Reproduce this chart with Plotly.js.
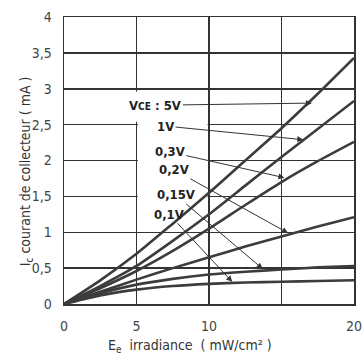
<!DOCTYPE html>
<html>
<head>
<meta charset="utf-8">
<script src="https://cdn.plot.ly/plotly-3.0.1.min.js"></script>
<style>html,body{margin:0;padding:0;background:#fff;}#chart{width:362px;height:355px;}</style>
</head>
<body>
<div id="chart"></div>
<script>
// Irradiance (mW/cm²)
const irradiance = [0, 2.5, 5, 7.5, 10, 12.5, 15, 17.5, 20];
// Collector current Ic (mA) for each VCE
const ic_5V   = [0, 0.33, 0.70, 1.12, 1.55, 2.00, 2.45, 2.93, 3.43];
const ic_1V   = [0, 0.25, 0.53, 0.88, 1.25, 1.65, 2.05, 2.44, 2.83];
const ic_03V  = [0, 0.22, 0.46, 0.74, 1.05, 1.38, 1.70, 1.99, 2.26];
const ic_02V  = [0, 0.17, 0.34, 0.50, 0.65, 0.80, 0.94, 1.08, 1.21];
const ic_015V = [0, 0.15, 0.27, 0.35, 0.41, 0.45, 0.48, 0.51, 0.53];
const ic_01V  = [0, 0.12, 0.20, 0.25, 0.28, 0.30, 0.31, 0.32, 0.33];
const seriesNames = ["VCE : 5V", "1V", "0,3V", "0,2V", "0,15V", "0,1V"];

const xTickVals = [0, 5, 10, 15, 20];
const xTickText = ["0", "5", "10", "", "20"];
const yTickVals = [0, 0.5, 1, 1.5, 2, 2.5, 3, 3.5, 4];
const yTickText = ["0", "0,5", "1", "1,5", "2", "2,5", "3", "3,5", "4"];

// label positions (text) and arrow tips, in data units
const labelText = ["V<span style='font-size:10px'>CE</span> : 5V", "1V", "0,3V", "0,2V", "0,15V", "0,1V"];
const labelX = [6.3, 7.0, 7.3, 7.6, 7.7, 7.25];
const labelY = [2.77, 2.48, 2.12, 1.87, 1.52, 1.25];
const tipX = [17.1, 16.5, 15.2, 15.45, 13.7, 11.6];
const tipY = [2.80, 2.29, 1.76, 0.99, 0.49, 0.31];

const curveColor = "#3c3c3c";
const allSeries = [ic_5V, ic_1V, ic_03V, ic_02V, ic_015V, ic_01V];
const traces = allSeries.map((ys, i) => ({
  x: irradiance, y: ys, name: seriesNames[i], type: "scatter", mode: "lines",
  line: {color: curveColor, width: 2.6, shape: "spline", smoothing: 0.6},
  hoverinfo: "skip"
}));

const fontFam = "'DejaVu Sans Condensed', 'DejaVu Sans', sans-serif";
const annotations = labelText.map((t, i) => ({
  x: tipX[i], y: tipY[i], xref: "x", yref: "y",
  ax: labelX[i], ay: labelY[i], axref: "x", ayref: "y",
  text: t, showarrow: true, arrowhead: 2, arrowsize: 1.2, arrowwidth: 1,
  arrowcolor: "#333", standoff: 0, startstandoff: 0,
  font: {family: fontFam, size: 13, color: "#222", weight: "bold"}
}));
annotations.push({
  xref: "paper", yref: "paper", x: 0.434, y: -0.146, xanchor: "center", yanchor: "middle",
  showarrow: false, text: "E<sub>e</sub>  irradiance  ( mW/cm² )",
  font: {family: fontFam, size: 14, color: "#333"}
});
annotations.push({
  xref: "paper", yref: "paper", x: -0.131, y: 0.463, xanchor: "center", yanchor: "middle",
  showarrow: false, textangle: -90, text: "I<sub>c</sub> courant de collecteur ( mA )",
  font: {family: fontFam, size: 14, color: "#333"}
});

const gridCol = "#333";
const layout = {
  width: 362, height: 355,
  margin: {l: 64, r: 8, t: 17, b: 51},
  paper_bgcolor: "#fff", plot_bgcolor: "#fff",
  showlegend: false,
  xaxis: {
    range: [0, 20], tickvals: xTickVals, ticktext: xTickText,
    showgrid: true, gridcolor: gridCol, gridwidth: 1.5, zeroline: false,
    showline: true, mirror: true, linecolor: gridCol, linewidth: 1.5,
    ticks: "outside", ticklen: 9, tickcolor: "rgba(0,0,0,0)",
    ticklabeloverflow: "allow",
    tickfont: {family: fontFam, size: 14, color: "#444"}, fixedrange: true
  },
  yaxis: {
    range: [0, 4], tickvals: yTickVals, ticktext: yTickText,
    showgrid: true, gridcolor: gridCol, gridwidth: 1.5, zeroline: false,
    showline: true, mirror: true, linecolor: gridCol, linewidth: 1.5,
    ticks: "outside", ticklen: 8, tickcolor: "rgba(0,0,0,0)",
    ticklabeloverflow: "allow",
    tickfont: {family: fontFam, size: 14, color: "#444"}, fixedrange: true
  },
  shapes: [
    {type: "rect", xref: "x", yref: "y", x0: 5.1, x1: 9.9, y0: 1.45, y1: 2.55,
     fillcolor: "#fff", line: {width: 0}, layer: "between"},
    {type: "rect", xref: "x", yref: "y", x0: 4.85, x1: 5.15, y0: 2.54, y1: 2.96,
     fillcolor: "#fff", line: {width: 0}, layer: "between"}
  ],
  annotations: annotations
};

Plotly.newPlot("chart", traces, layout, {staticPlot: true, displayModeBar: false});
</script>
</body>
</html>
